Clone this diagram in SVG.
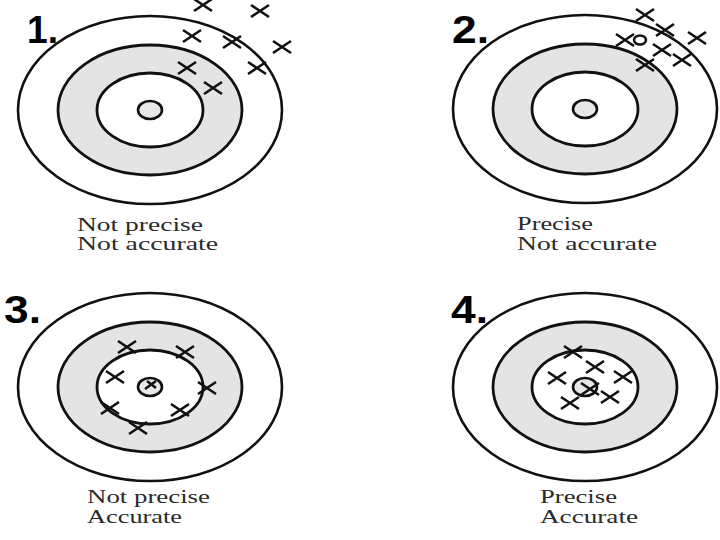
<svg xmlns="http://www.w3.org/2000/svg" xmlns:xlink="http://www.w3.org/1999/xlink" width="720" height="540" viewBox="0 0 720 540">
<style>
.ring{fill:none;stroke:#111;stroke-width:2.6}
.band{fill:#e4e4e4;stroke:#111;stroke-width:2.8}
.inner{fill:#fff;stroke:#111;stroke-width:2.8}
.bull{fill:#e8e8e8;stroke:#111;stroke-width:2.6}
.x{fill:none;stroke:#111;stroke-width:2.6;stroke-linecap:butt}
.num{font-family:"Liberation Sans",Arial,sans-serif;font-weight:bold;font-size:38px;fill:#000}
.cap{font-family:"Liberation Serif","Times New Roman",serif;font-size:19px;fill:#2a2a2a}
</style>
<defs>
<path id="x" class="x" d="M-9,-6 L9,6 M-9,6 L9,-6"/>
<g id="target">
<ellipse class="ring" cx="0" cy="0" rx="132" ry="94"/>
<ellipse class="band" cx="0" cy="0" rx="92" ry="65"/>
<ellipse class="inner" cx="0" cy="0" rx="53" ry="37"/>
<ellipse class="bull" cx="0" cy="0" rx="12" ry="9"/>
</g>
</defs>
<rect width="720" height="540" fill="#fff"/>

<g id="target1">
<use xlink:href="#target" x="150" y="110"/>
<use xlink:href="#x" x="203" y="5"/>
<use xlink:href="#x" x="260" y="11"/>
<use xlink:href="#x" x="192" y="36"/>
<use xlink:href="#x" x="232" y="42"/>
<use xlink:href="#x" x="282" y="47"/>
<use xlink:href="#x" x="187" y="68"/>
<use xlink:href="#x" x="257" y="68"/>
<use xlink:href="#x" x="213" y="88"/>
<text class="num" x="27" y="43" textLength="31" lengthAdjust="spacingAndGlyphs">1.</text>
<text class="cap" x="77" y="231" textLength="126" lengthAdjust="spacingAndGlyphs">Not precise</text>
<text class="cap" x="77" y="250" textLength="141" lengthAdjust="spacingAndGlyphs">Not accurate</text>
</g>

<g id="target2">
<use xlink:href="#target" x="585" y="109"/>
<use xlink:href="#x" x="645" y="15"/>
<use xlink:href="#x" x="665" y="30"/>
<use xlink:href="#x" x="697" y="38"/>
<use xlink:href="#x" x="625" y="40"/>
<ellipse class="x" cx="640" cy="40" rx="6" ry="4.5"/>
<use xlink:href="#x" x="662" y="50"/>
<use xlink:href="#x" x="682" y="60"/>
<use xlink:href="#x" x="645" y="65"/>
<text class="num" x="452" y="43" textLength="37" lengthAdjust="spacingAndGlyphs">2.</text>
<text class="cap" x="517" y="230" textLength="76" lengthAdjust="spacingAndGlyphs">Precise</text>
<text class="cap" x="517" y="250" textLength="140" lengthAdjust="spacingAndGlyphs">Not accurate</text>
</g>

<g id="target3">
<use xlink:href="#target" x="150" y="387"/>
<use xlink:href="#x" x="127" y="347"/>
<use xlink:href="#x" x="185" y="352"/>
<use xlink:href="#x" x="115" y="377"/>
<path class="x" d="M145,389 L156,381 M147,381 L156,388"/>
<use xlink:href="#x" x="207" y="388"/>
<use xlink:href="#x" x="110" y="408"/>
<use xlink:href="#x" x="180" y="410"/>
<use xlink:href="#x" x="138" y="428"/>
<text class="num" x="4" y="323" textLength="37" lengthAdjust="spacingAndGlyphs">3.</text>
<text class="cap" x="87" y="503" textLength="123" lengthAdjust="spacingAndGlyphs">Not precise</text>
<text class="cap" x="87" y="523" textLength="95" lengthAdjust="spacingAndGlyphs">Accurate</text>
</g>

<g id="target4">
<use xlink:href="#target" x="585" y="387"/>
<use xlink:href="#x" x="573" y="352"/>
<use xlink:href="#x" x="595" y="367"/>
<use xlink:href="#x" x="557" y="378"/>
<use xlink:href="#x" x="623" y="377"/>
<use xlink:href="#x" x="590" y="389"/>
<use xlink:href="#x" x="610" y="397"/>
<use xlink:href="#x" x="570" y="403"/>
<text class="num" x="451" y="323" textLength="37" lengthAdjust="spacingAndGlyphs">4.</text>
<text class="cap" x="540" y="503" textLength="77" lengthAdjust="spacingAndGlyphs">Precise</text>
<text class="cap" x="540" y="523" textLength="98" lengthAdjust="spacingAndGlyphs">Accurate</text>
</g>
</svg>
